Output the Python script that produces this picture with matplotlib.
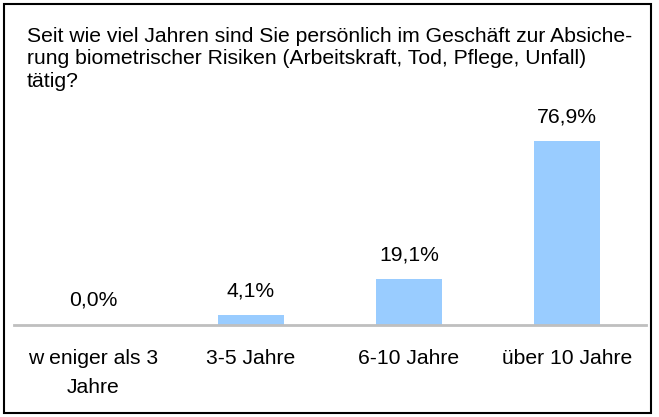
import matplotlib
matplotlib.use("Agg")
import matplotlib.pyplot as plt
from matplotlib.patches import Rectangle

plt.rcParams['font.family'] = ['Liberation Sans', 'DejaVu Sans']

title = ("Seit wie viel Jahren sind Sie persönlich im Geschäft zur Absiche-\n"
         "rung biometrischer Risiken (Arbeitskraft, Tod, Pflege, Unfall)\n"
         "tätig?")
categories = ["w eniger als 3\nJahre", "3-5 Jahre", "6-10 Jahre", "über 10 Jahre"]
values = [0.0, 4.1, 19.1, 76.9]
labels = ["0,0%", "4,1%", "19,1%", "76,9%"]

W, H = 659, 417
FS = 15.2
fig = plt.figure(figsize=(W / 100, H / 100), dpi=100)
fig.patch.set_facecolor("white")

# outer frame
fig.patches.append(Rectangle((4 / W, 4 / H), (651 - 4) / W, (413 - 4) / H,
                             transform=fig.transFigure, fill=False,
                             edgecolor="black", linewidth=1.5))

fig.text(27 / W, 1 - 27 / H, title, ha="left", va="top", fontsize=FS,
         linespacing=1.22, color="black")

ax_left, ax_right = 14, 646
ax_top, ax_bot = 110, 325
ax = fig.add_axes([ax_left / W, 1 - ax_bot / H, (ax_right - ax_left) / W, (ax_bot - ax_top) / H])
x = list(range(len(categories)))
ax.bar(x, values, width=0.415, color="#99CCFF", zorder=2)
ax.set_xlim(-0.5, 3.5)
ax.set_ylim(0, 90)
for s in ["top", "right", "left"]:
    ax.spines[s].set_visible(False)
ax.spines["bottom"].set_color("#BFBFBF")
ax.spines["bottom"].set_linewidth(2)
ax.set_yticks([])
ax.set_xticks(x)
ax.set_xticklabels(categories, fontsize=FS, linespacing=1.7)
ax.tick_params(axis="x", length=0, pad=17)
for xi, v, lab in zip(x, values, labels):
    ax.annotate(lab, (xi, v), xytext=(0, 10.8), textcoords="offset points",
                ha="center", va="bottom", fontsize=FS)

fig.savefig("out.png", dpi=100)
